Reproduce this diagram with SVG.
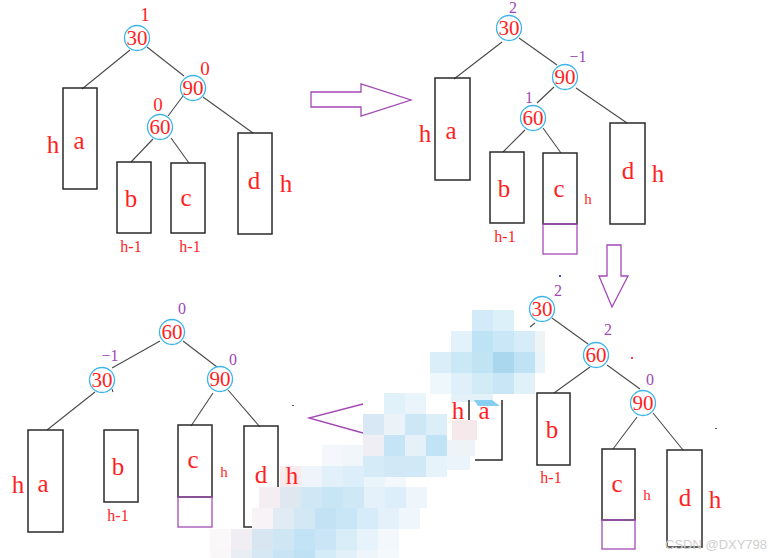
<svg xmlns="http://www.w3.org/2000/svg" width="775" height="558" viewBox="0 0 775 558">
<style>
.edge{stroke:#4a4a4a;stroke-width:1.1;fill:none}
.box{fill:none;stroke:#2a2a2a;stroke-width:1.5}
.pbox{fill:none;stroke:#a44cb6;stroke-width:1.3}
.ring{fill:#fff;stroke:#3db5ea;stroke-width:1.3}
.arrow{fill:#fff;stroke:#a447b6;stroke-width:1.3}
text{font-family:"Liberation Serif","Times New Roman",serif;text-anchor:middle;fill:#ff1f1f}
.num{font-size:21px}
.lbl{font-size:25px}
.hb{font-size:25px}
.hs{font-size:15px}
.hm{font-size:16px}
.br{font-size:19px}
.bp{font-size:16px;fill:#9d48b4}
.wm{font-family:"Liberation Sans",Arial,sans-serif;font-size:13px;fill:#cfcfcf;text-anchor:start}
</style>
<rect width="775" height="558" fill="#fff"/>

<g id="connectors">
  <!-- panel 1 -->
  <line class="edge" x1="130" y1="50" x2="82" y2="89"/>
  <line class="edge" x1="147" y1="47" x2="184" y2="76"/>
  <line class="edge" x1="183" y1="96" x2="168" y2="116"/>
  <line class="edge" x1="203" y1="97" x2="253" y2="133"/>
  <line class="edge" x1="153" y1="139" x2="131" y2="162"/>
  <line class="edge" x1="171" y1="138" x2="189" y2="163"/>
  <!-- panel 2 -->
  <line class="edge" x1="502" y1="42" x2="454" y2="79"/>
  <line class="edge" x1="519" y1="38" x2="557" y2="65"/>
  <line class="edge" x1="554" y1="87" x2="537" y2="103"/>
  <line class="edge" x1="576" y1="88" x2="627" y2="123"/>
  <line class="edge" x1="525" y1="130" x2="503" y2="152"/>
  <line class="edge" x1="543" y1="128" x2="561" y2="153"/>
  <!-- panel 3 -->
  <line class="edge" x1="160" y1="341" x2="112" y2="368"/>
  <line class="edge" x1="183" y1="341" x2="217" y2="367"/>
  <line class="edge" x1="95" y1="392" x2="47" y2="430"/>
  <line class="edge" x1="112" y1="389" x2="113" y2="392"/>
  <line class="edge" x1="213" y1="393" x2="191" y2="426"/>
  <line class="edge" x1="228" y1="390" x2="260" y2="427"/>
  <!-- panel 4 -->
  <line class="edge" x1="535" y1="323" x2="530" y2="327"/>
  <line class="edge" x1="552" y1="318" x2="588" y2="344"/>
  <line class="edge" x1="590" y1="367" x2="554" y2="393"/>
  <line class="edge" x1="607" y1="365" x2="640" y2="389"/>
  <line class="edge" x1="637" y1="417" x2="613" y2="449"/>
  <line class="edge" x1="653" y1="413" x2="683" y2="450"/>
</g>

<!-- panel 1 boxes -->
<g id="p1-a"><rect class="box" x="63" y="88" width="34" height="101"/><text class="hb" x="53" y="153">h</text><text class="lbl" x="79" y="149">a</text></g>
<g id="p1-b"><rect class="box" x="117" y="162" width="34" height="71"/><text class="lbl" x="131" y="207">b</text><text class="hm" x="131" y="252">h-1</text></g>
<g id="p1-c"><rect class="box" x="171" y="163" width="34" height="70"/><text class="lbl" x="186" y="206">c</text><text class="hm" x="190" y="252">h-1</text></g>
<g id="p1-d"><rect class="box" x="238" y="133" width="34" height="101"/><text class="lbl" x="254" y="189">d</text><text class="hb" x="286" y="192">h</text></g>

<!-- panel 2 boxes -->
<g id="p2-a"><rect class="box" x="435" y="78" width="35" height="102"/><text class="hb" x="425" y="142">h</text><text class="lbl" x="451" y="139">a</text></g>
<g id="p2-b"><rect class="box" x="490" y="152" width="34" height="71"/><text class="lbl" x="504" y="197">b</text><text class="hm" x="505" y="242">h-1</text></g>
<g id="p2-c"><rect class="box" x="543" y="153" width="34" height="71"/><rect class="pbox" x="543" y="224" width="34" height="30"/><text class="lbl" x="559" y="197">c</text><text class="hs" x="588" y="204">h</text></g>
<g id="p2-d"><rect class="box" x="610" y="123" width="35" height="101"/><text class="lbl" x="628" y="179">d</text><text class="hb" x="658" y="182">h</text></g>

<!-- panel 3 boxes -->
<g id="p3-a"><rect class="box" x="28" y="430" width="35" height="102"/><text class="hb" x="18" y="493">h</text><text class="lbl" x="43" y="492">a</text></g>
<g id="p3-b"><rect class="box" x="104" y="430" width="34" height="72"/><text class="lbl" x="118" y="475">b</text><text class="hm" x="118" y="521">h-1</text></g>
<g id="p3-c"><rect class="box" x="178" y="425" width="34" height="72"/><rect class="pbox" x="178" y="497" width="34" height="30"/><text class="lbl" x="193" y="468">c</text><text class="hs" x="224" y="477">h</text></g>
<g id="p3-d"><rect class="box" x="244" y="426" width="34" height="101"/></g>

<!-- panel 4 boxes -->
<g id="p4-b"><rect class="box" x="537" y="393" width="33" height="72"/><text class="lbl" x="552" y="438">b</text><text class="hm" x="551" y="483">h-1</text></g>
<g id="p4-c"><rect class="box" x="602" y="449" width="33" height="71"/><rect class="pbox" x="602" y="520" width="33" height="29"/><text class="lbl" x="617" y="492">c</text><text class="hs" x="647" y="500">h</text></g>
<g id="p4-d"><rect class="box" x="667" y="450" width="35" height="97"/><text class="lbl" x="685" y="506">d</text><text class="hb" x="715" y="508">h</text></g>

<!-- arrows -->
<g id="arrows">
  <path class="arrow" d="M311,92 H361 V84 L411,100 L361,116 V107 H311 Z"/>
  <path class="arrow" d="M607,245 H621 V276 H628 L612,307 L599,276 H607 Z"/>
  <path class="arrow" fill="none" d="M363,404 L309,418 L363,433"/>
</g>

<!-- mosaic -->
<g id="mosaic" stroke="none">
  <rect x="472" y="310" width="21" height="21" fill="#d3ebf8"/>
  <rect x="493" y="310" width="21" height="21" fill="#dcf0fa"/>
  <rect x="451" y="331" width="21" height="21" fill="#e2f1fa"/>
  <rect x="472" y="331" width="21" height="21" fill="#bde3f5"/>
  <rect x="493" y="331" width="21" height="21" fill="#c9e7f6"/>
  <rect x="514" y="331" width="21" height="21" fill="#d6edf9"/>
  <rect x="535" y="331" width="10" height="21" fill="#eef3f6"/>
  <rect x="430" y="352" width="21" height="21" fill="#d9eef9"/>
  <rect x="451" y="352" width="21" height="21" fill="#cbe8f6"/>
  <rect x="472" y="352" width="21" height="21" fill="#c1e4f5"/>
  <rect x="493" y="352" width="21" height="21" fill="#aad7ee"/>
  <rect x="514" y="352" width="21" height="21" fill="#bfe2f4"/>
  <rect x="535" y="352" width="10" height="21" fill="#e9f4fa"/>
  <rect x="430" y="373" width="21" height="21" fill="#eef7fc"/>
  <rect x="451" y="373" width="21" height="21" fill="#dff0fa"/>
  <rect x="472" y="373" width="21" height="21" fill="#d1ebf7"/>
  <rect x="493" y="373" width="21" height="21" fill="#c8e6f5"/>
  <rect x="514" y="373" width="21" height="21" fill="#e1f1fa"/>
  <rect x="451" y="394" width="42" height="8" fill="#e3f1f9"/>
  <path d="M474,400 L492,400 L500,406 L478,406 Z" fill="#86cff0"/>

  <rect x="384" y="393" width="21" height="21" fill="#e1f1fa"/>
  <rect x="405" y="393" width="21" height="21" fill="#eaf5fb"/>
  <rect x="363" y="414" width="21" height="21" fill="#d8e8f4"/>
  <rect x="384" y="414" width="21" height="21" fill="#ebf3f9"/>
  <rect x="405" y="414" width="21" height="21" fill="#cde7f6"/>
  <rect x="426" y="414" width="21" height="21" fill="#dcefF9"/>
  <rect x="452" y="420" width="25" height="20" fill="#f5e9eb"/>
  <rect x="363" y="435" width="21" height="21" fill="#efeef4"/>
  <rect x="384" y="435" width="21" height="21" fill="#c5e4f5"/>
  <rect x="405" y="435" width="21" height="21" fill="#e6f0f8"/>
  <rect x="426" y="435" width="21" height="21" fill="#c0e3f5"/>
  <rect x="447" y="440" width="28" height="16" fill="#eef3f7"/>
  <rect x="363" y="456" width="21" height="21" fill="#d5ecf8"/>
  <rect x="384" y="456" width="21" height="21" fill="#d1e9f7"/>
  <rect x="405" y="456" width="21" height="21" fill="#d0e9f6"/>
  <rect x="426" y="456" width="21" height="21" fill="#e7f3fa"/>
  <rect x="447" y="456" width="23" height="14" fill="#eaf4fa"/>

  <rect x="322" y="445" width="21" height="21" fill="#f4f7fb"/>
  <rect x="343" y="445" width="20" height="21" fill="#f1f6fb"/>
  <rect x="280" y="466" width="21" height="21" fill="#f7ebed"/>
  <rect x="301" y="466" width="21" height="21" fill="#eef4fa"/>
  <rect x="322" y="466" width="21" height="21" fill="#e2f0f9"/>
  <rect x="343" y="466" width="21" height="21" fill="#dbeef9"/>
  <rect x="364" y="477" width="21" height="10" fill="#eaf5fb"/>
  <rect x="385" y="477" width="21" height="10" fill="#f2f8fc"/>
  <rect x="259" y="487" width="21" height="21" fill="#f4eef2"/>
  <rect x="280" y="487" width="21" height="21" fill="#dfe8f1"/>
  <rect x="301" y="487" width="21" height="21" fill="#d0e8f6"/>
  <rect x="322" y="487" width="21" height="21" fill="#c8e5f6"/>
  <rect x="343" y="487" width="21" height="21" fill="#cfe8f6"/>
  <rect x="364" y="487" width="21" height="21" fill="#e4f1fa"/>
  <rect x="385" y="487" width="21" height="21" fill="#dbeef9"/>
  <rect x="406" y="487" width="21" height="21" fill="#eef6fb"/>
  <rect x="252" y="508" width="21" height="21" fill="#f7f3f6"/>
  <rect x="273" y="508" width="21" height="21" fill="#e0ebf4"/>
  <rect x="294" y="508" width="21" height="21" fill="#d2e8f5"/>
  <rect x="315" y="508" width="21" height="21" fill="#c3e3f5"/>
  <rect x="336" y="508" width="21" height="21" fill="#c9e6f6"/>
  <rect x="357" y="508" width="21" height="21" fill="#d6ecf8"/>
  <rect x="378" y="508" width="21" height="21" fill="#e4f1fa"/>
  <rect x="399" y="508" width="21" height="21" fill="#f0f7fc"/>
  <rect x="210" y="529" width="21" height="21" fill="#fbf8fa"/>
  <rect x="231" y="529" width="21" height="21" fill="#f1eef3"/>
  <rect x="252" y="529" width="21" height="21" fill="#d7e6f1"/>
  <rect x="273" y="529" width="21" height="21" fill="#cfe7f5"/>
  <rect x="294" y="529" width="21" height="21" fill="#c2e3f5"/>
  <rect x="315" y="529" width="21" height="21" fill="#cae6f6"/>
  <rect x="336" y="529" width="21" height="21" fill="#d9edf8"/>
  <rect x="357" y="529" width="21" height="21" fill="#e6f3fb"/>
  <rect x="378" y="529" width="21" height="21" fill="#f2f8fc"/>
  <rect x="210" y="550" width="21" height="8" fill="#faf7f9"/>
  <rect x="231" y="550" width="21" height="8" fill="#e9eef4"/>
  <rect x="252" y="550" width="21" height="8" fill="#d5e8f3"/>
  <rect x="273" y="550" width="21" height="8" fill="#c9e5f5"/>
  <rect x="294" y="550" width="21" height="8" fill="#bfe1f4"/>
  <rect x="315" y="550" width="21" height="8" fill="#d4ebf8"/>
  <rect x="336" y="550" width="21" height="8" fill="#e2f0f9"/>
  <rect x="357" y="550" width="21" height="8" fill="#eef6fb"/>
  <rect x="378" y="550" width="21" height="8" fill="#f4f9fc"/>
</g>

<!-- labels drawn over the mosaic -->
<g id="p3-d-labels"><text class="lbl" x="261" y="483">d</text><text class="hb" x="292" y="484">h</text></g>
<g id="p4-a"><path class="box" d="M469,400 V420 M502,400 V460 H475"/><text class="hb" x="458" y="419">h</text><text class="lbl" x="484" y="419">a</text></g>

<!-- circle nodes -->
<g id="p1-n30"><circle class="ring" cx="137" cy="38" r="12.5"/><text class="num" x="137" y="45">30</text><text class="br" x="145" y="21">1</text></g>
<g id="p1-n90"><circle class="ring" cx="193" cy="88" r="12.5"/><text class="num" x="193" y="95">90</text><text class="br" x="205" y="75">0</text></g>
<g id="p1-n60"><circle class="ring" cx="160" cy="127" r="12.5"/><text class="num" x="160" y="134">60</text><text class="br" x="158" y="111">0</text></g>

<g id="p2-n30"><circle class="ring" cx="509" cy="28" r="12.5"/><text class="num" x="509" y="35">30</text><text class="bp" x="513" y="13">2</text></g>
<g id="p2-n90"><circle class="ring" cx="565" cy="77" r="12.5"/><text class="num" x="565" y="84">90</text><text class="bp" x="578" y="62">−1</text></g>
<g id="p2-n60"><circle class="ring" cx="533" cy="118" r="12.5"/><text class="num" x="533" y="125">60</text><text class="bp" x="529" y="103">1</text></g>

<g id="p3-n60"><circle class="ring" cx="172" cy="332" r="12.5"/><text class="num" x="172" y="339">60</text><text class="bp" x="182" y="314">0</text></g>
<g id="p3-n30"><circle class="ring" cx="102" cy="380" r="12.5"/><text class="num" x="102" y="387">30</text><text class="bp" x="110" y="361">−1</text></g>
<g id="p3-n90"><circle class="ring" cx="220" cy="379" r="12.5"/><text class="num" x="220" y="386">90</text><text class="bp" x="233" y="365">0</text></g>

<g id="p4-n30"><circle class="ring" cx="542" cy="309" r="12.5"/><text class="num" x="542" y="316">30</text><text class="bp" x="558" y="296">2</text></g>
<g id="p4-n60"><circle class="ring" cx="596" cy="355" r="12.5"/><text class="num" x="596" y="362">60</text><text class="bp" x="608" y="335">2</text></g>
<g id="p4-n90"><circle class="ring" cx="643" cy="403" r="12.5"/><text class="num" x="643" y="410">90</text><text class="bp" x="650" y="385">0</text></g>

<!-- specks -->
<rect x="559" y="275" width="2" height="2" fill="#3050d0"/>
<rect x="631" y="357" width="2" height="2" fill="#ff4040"/>
<rect x="715" y="428" width="2" height="1" fill="#555"/>
<rect x="292" y="405" width="2" height="1" fill="#555"/>

<text class="wm" x="665" y="549">CSDN @DXY798</text>
</svg>
